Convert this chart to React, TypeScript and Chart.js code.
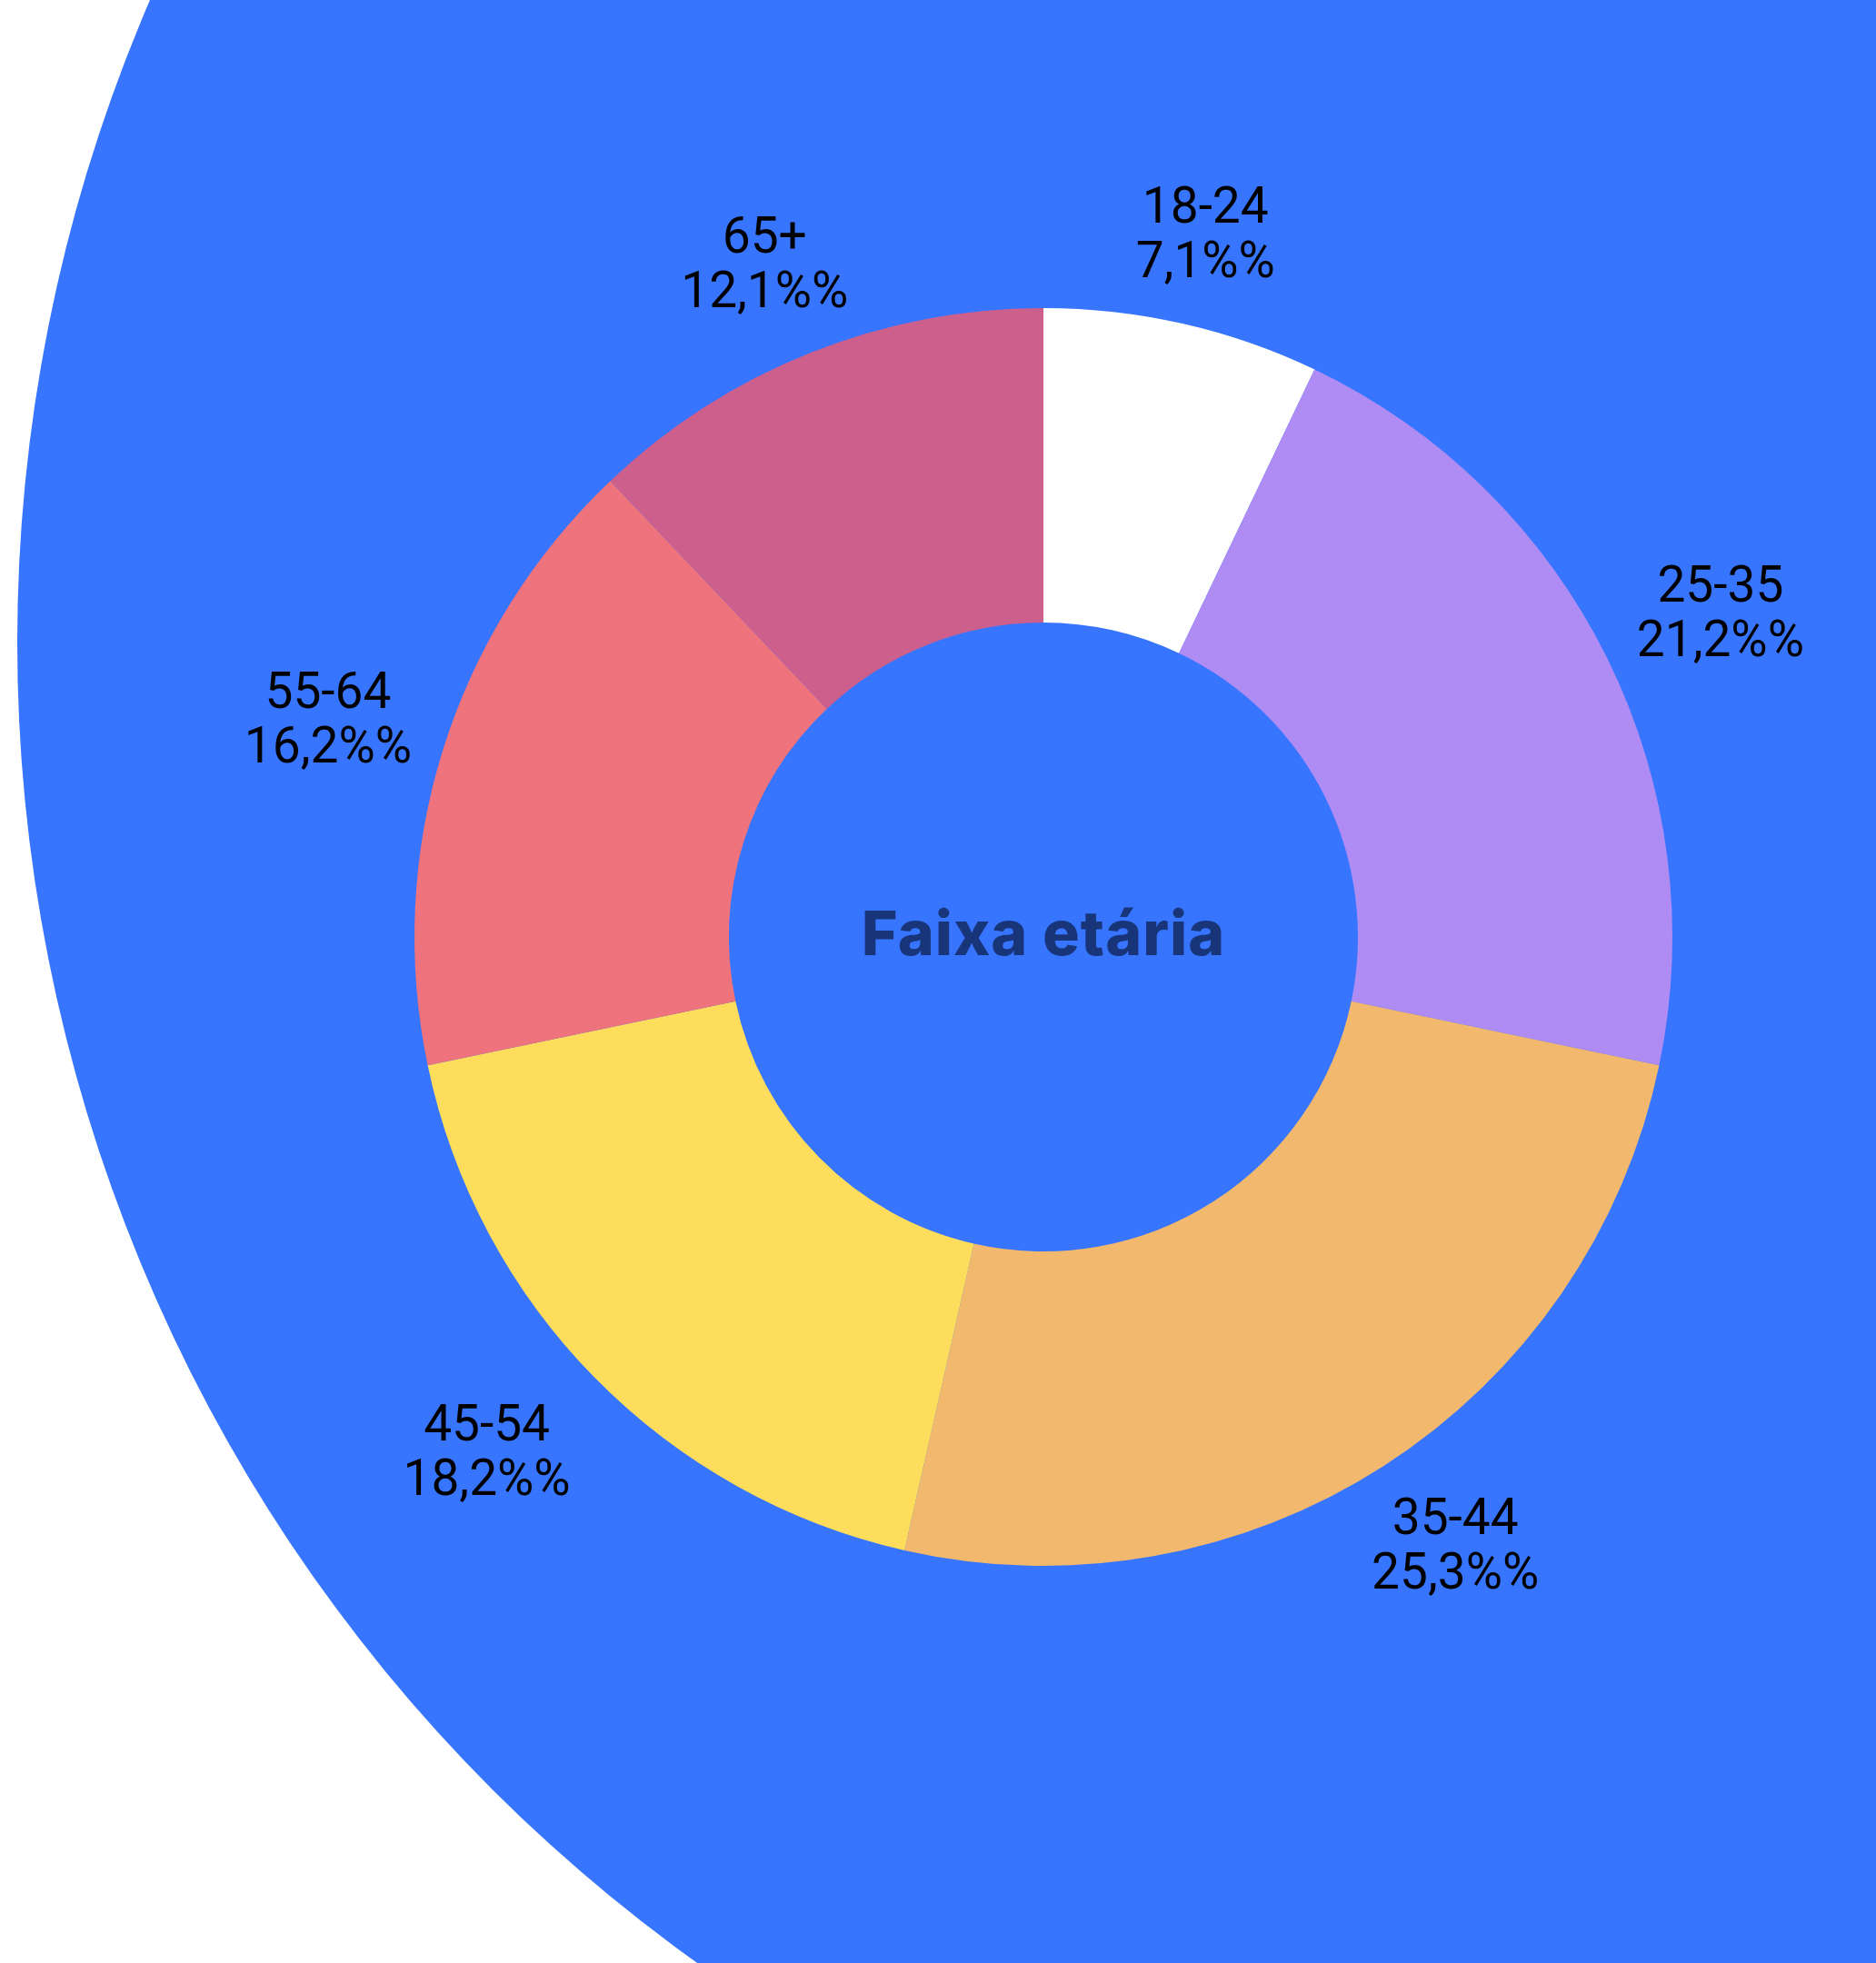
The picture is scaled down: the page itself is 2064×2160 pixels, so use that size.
import React, { useEffect, useRef } from "react";
import { Chart, registerables } from "chart.js";

Chart.register(...registerables);

// ---- data ----
const categories = ["18-24", "25-35", "35-44", "45-54", "55-64", "65+"];
const shares = [7.1, 21.2, 25.3, 18.2, 16.2, 12.1];
const sliceColors = ["#FFFFFF", "#AF8CF4", "#F2B86E", "#FDDD5B", "#EF737C", "#CC5F8C"];
const centerTitle = "Faixa etária";

// ---- styles ----
const W = 2064;
const H = 2160;
const BG_BLUE = "#3775FF";
const TITLE_COLOR = "#19357A";
const LABEL_FONT = "Roboto";
const TITLE_FONT = "Inter";
const LABEL_SIZE = 55;
const LINE_H = 60;
const PAD = 4;
const OFFSET = 32;

const fmt = (v: number) => v.toFixed(1).replace(".", ",") + "%%";

const backdropPlugin = {
  id: "backdrop",
  beforeDraw(chart: any) {
    const ctx = chart.ctx;
    ctx.save();
    ctx.fillStyle = BG_BLUE;
    ctx.beginPath();
    ctx.arc(1804, 707, 1785, 0, Math.PI * 2);
    ctx.fill();
    ctx.restore();
  },
};

const labelsPlugin = {
  id: "sliceLabels",
  afterDatasetsDraw(chart: any) {
    const ctx = chart.ctx;
    const meta = chart.getDatasetMeta(0);
    ctx.save();
    ctx.font = `400 ${LABEL_SIZE}px ${LABEL_FONT}`;
    ctx.fillStyle = "#000000";
    ctx.textAlign = "center";
    ctx.textBaseline = "middle";
    meta.data.forEach((arc: any, i: number) => {
      const p = arc.getProps(["x", "y", "startAngle", "endAngle", "outerRadius"], true);
      const mid = (p.startAngle + p.endAngle) / 2;
      const vx = Math.cos(mid);
      const vy = Math.sin(mid);
      const ax = p.x + vx * p.outerRadius;
      const ay = p.y + vy * p.outerRadius;
      const lines = [categories[i], fmt(shares[i])];
      const w = Math.max(...lines.map((l) => ctx.measureText(l).width)) + 2 * PAD;
      const h = lines.length * LINE_H + 2 * PAD;
      const vs = 1 / Math.max(Math.abs(vx), Math.abs(vy));
      const cx = ax + (w / 2) * vx * vs + OFFSET * vx;
      const cy = ay + (h / 2) * vy * vs + OFFSET * vy;
      lines.forEach((l, k) => {
        ctx.fillText(l, cx, cy + (k - (lines.length - 1) / 2) * LINE_H);
      });
    });
    ctx.restore();
  },
};

const titlePlugin = {
  id: "centerTitle",
  afterDatasetsDraw(chart: any) {
    const ctx = chart.ctx;
    const arc = chart.getDatasetMeta(0).data[0];
    if (!arc) return;
    const { x, y } = arc.getProps(["x", "y"], true);
    ctx.save();
    ctx.font = `800 68px ${TITLE_FONT}`;
    try {
      (ctx as any).letterSpacing = "1px";
    } catch (e) {}
    ctx.fillStyle = TITLE_COLOR;
    ctx.textAlign = "center";
    ctx.textBaseline = "middle";
    ctx.fillText(centerTitle, x, y);
    ctx.restore();
  },
};

export default function App() {
  const ref = useRef<HTMLCanvasElement | null>(null);
  useEffect(() => {
    if (!ref.current) return;
    const chart = new Chart(ref.current, {
      type: "doughnut",
      data: {
        labels: categories,
        datasets: [
          {
            data: shares,
            backgroundColor: sliceColors,
            borderWidth: 0,
          },
        ],
      },
      options: {
        responsive: false,
        animation: false,
        cutout: "50%",
        layout: { padding: { left: 456, right: 224, top: 339, bottom: 437 } },
        plugins: {
          legend: { display: false },
          tooltip: { enabled: false },
        },
      },
      plugins: [backdropPlugin, labelsPlugin, titlePlugin],
    });
    return () => chart.destroy();
  }, []);
  return (
    <div style={{ position: "absolute", left: 0, top: 0, width: W, height: H, background: "#FFFFFF" }}>
      <canvas ref={ref} width={W} height={H} style={{ display: "block", width: W, height: H }} />
    </div>
  );
}
